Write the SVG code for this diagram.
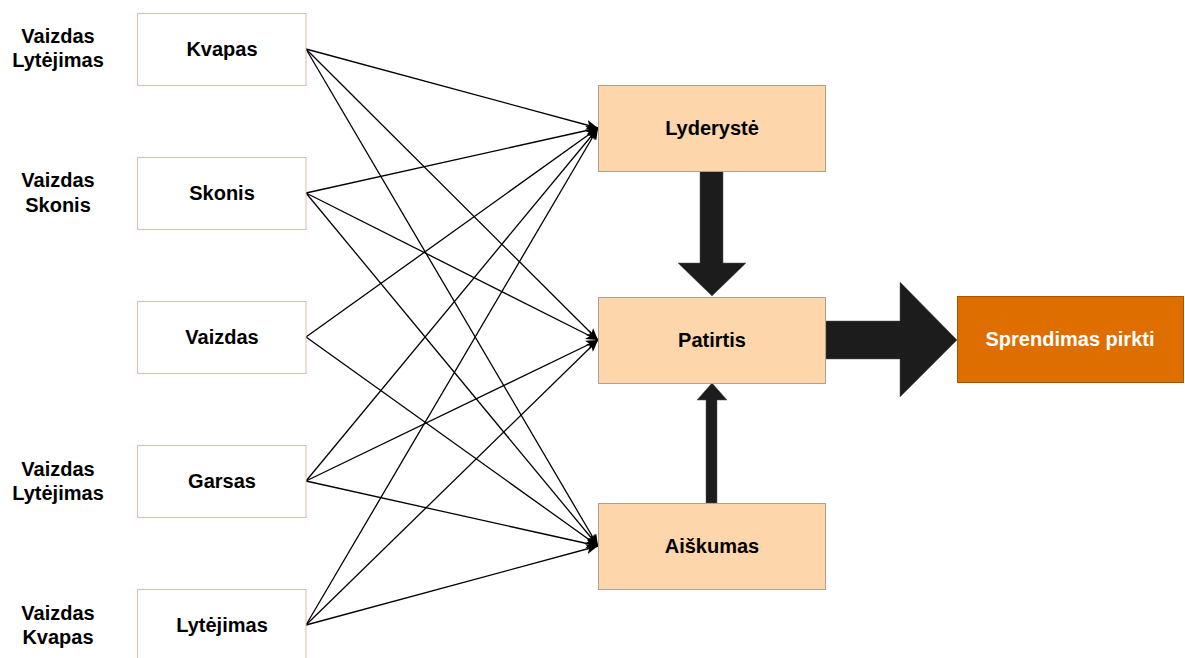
<svg xmlns="http://www.w3.org/2000/svg" width="1185" height="658" viewBox="0 0 1185 658">
<style>
text{font-family:"Liberation Sans",Arial,sans-serif;font-weight:bold;font-size:20px;text-anchor:middle;fill:#000}
.src{fill:#fff;stroke:#f0b4a8;stroke-width:1}
.mid{fill:#fdd6ab;stroke:#b3a08c;stroke-width:1}
.c{stroke:#000;stroke-width:1.3;fill:none;marker-end:url(#ah)}
.big{fill:#1c1c1c;stroke:#555;stroke-width:0.5}
</style>
<defs>
<marker id="ah" viewBox="0 0 12 10" refX="12" refY="5" markerWidth="12" markerHeight="10" markerUnits="userSpaceOnUse" orient="auto">
<path d="M0,0 L12,5 L0,10 L3,5 Z" fill="#000"/>
</marker>
</defs>
<rect width="1185" height="658" fill="#fff"/>
<g id="labels">
<text x="58" y="43">Vaizdas</text><text x="58" y="67">Lytėjimas</text>
<text x="58" y="187">Vaizdas</text><text x="58" y="212">Skonis</text>
<text x="58" y="476">Vaizdas</text><text x="58" y="500">Lytėjimas</text>
<text x="58" y="620">Vaizdas</text><text x="58" y="644">Kvapas</text>
</g>
<g id="connectors">
<line class="c" x1="306" y1="49" x2="598" y2="128"/>
<line class="c" x1="306" y1="49" x2="598" y2="340"/>
<line class="c" x1="306" y1="49" x2="598" y2="546"/>
<line class="c" x1="306" y1="193" x2="598" y2="128"/>
<line class="c" x1="306" y1="193" x2="598" y2="340"/>
<line class="c" x1="306" y1="193" x2="598" y2="546"/>
<line class="c" x1="306" y1="337" x2="598" y2="128"/>
<line class="c" x1="306" y1="337" x2="598" y2="546"/>
<line class="c" x1="306" y1="481" x2="598" y2="128"/>
<line class="c" x1="306" y1="481" x2="598" y2="340"/>
<line class="c" x1="306" y1="481" x2="598" y2="546"/>
<line class="c" x1="306" y1="625" x2="598" y2="128"/>
<line class="c" x1="306" y1="625" x2="598" y2="340"/>
<line class="c" x1="306" y1="625" x2="598" y2="546"/>
<path class="big" d="M700,171 H723 V263 H746 L712,296 L678,263 H700 Z"/>
<path class="big" d="M706,503 V400 H697 L712,383 L727,400 H717 V503 Z"/>
<path class="big" d="M826,321 H900 V282 L957,340 L900,397 V359 H826 Z"/>
</g>
<g id="kvapas"><rect class="src" x="137.5" y="13.5" width="168.5" height="72"/><text x="222" y="56">Kvapas</text></g>
<g id="skonis"><rect class="src" x="137.5" y="157.5" width="168.5" height="72"/><text x="222" y="200">Skonis</text></g>
<g id="vaizdas"><rect class="src" x="137.5" y="301.5" width="168.5" height="72"/><text x="222" y="344">Vaizdas</text></g>
<g id="garsas"><rect class="src" x="137.5" y="445.5" width="168.5" height="72"/><text x="222" y="488">Garsas</text></g>
<g id="lytejimas"><rect class="src" x="137.5" y="589.5" width="168.5" height="72"/><text x="222" y="632">Lytėjimas</text></g>
<g id="lyderyste"><rect class="mid" x="598.5" y="85.5" width="227" height="86"/><text x="712" y="135">Lyderystė</text></g>
<g id="patirtis"><rect class="mid" x="598.5" y="297.5" width="227" height="86"/><text x="712" y="347">Patirtis</text></g>
<g id="aiskumas"><rect class="mid" x="598.5" y="503.5" width="227" height="86"/><text x="712" y="553">Aiškumas</text></g>
<g id="sprendimas"><rect x="957.5" y="296.5" width="226" height="86" fill="#de6e00" stroke="#a85300"/><text x="1070" y="346" style="fill:#fff">Sprendimas pirkti</text></g>
</svg>
